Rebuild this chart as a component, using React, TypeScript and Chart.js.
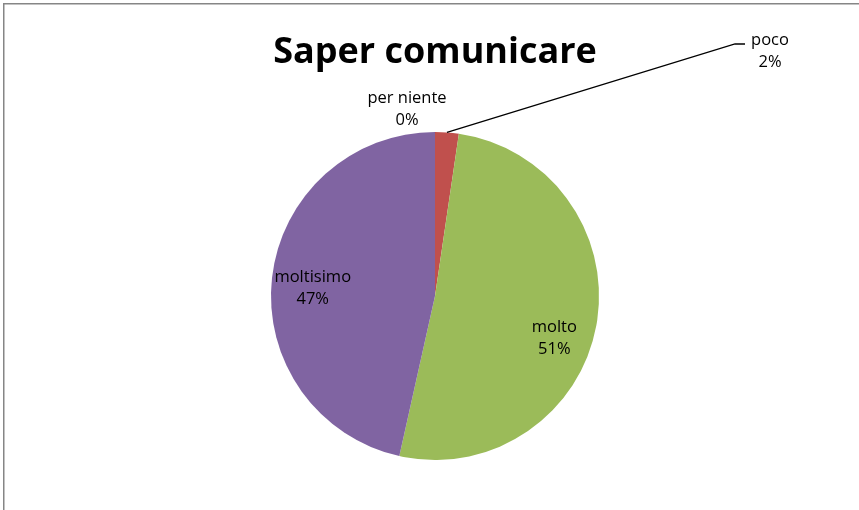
import React, { useEffect, useRef } from "react";
import { Chart, registerables } from "chart.js";

Chart.register(...registerables);

const categories = ["per niente", "poco", "molto", "moltisimo"];
const counts = [0, 1, 22, 20];
const colors = ["#4F81BD", "#C0504D", "#9BBB59", "#8064A2"];
const titleText = "Saper comunicare";

const FONT = "'Open Sans', 'DejaVu Sans', sans-serif";

const labelPlugin = {
  id: "excelLabels",
  beforeDraw(chart: any) {
    const ctx = chart.ctx;
    ctx.save();
    ctx.fillStyle = "#ffffff";
    ctx.fillRect(0, 0, chart.width, chart.height);
    ctx.strokeStyle = "#868686";
    ctx.lineWidth = 1.5;
    ctx.strokeRect(3.75, 3.75, chart.width + 20, chart.height + 20);
    ctx.restore();
  },
  afterDatasetsDraw(chart: any) {
    const ctx = chart.ctx;
    const meta = chart.getDatasetMeta(0);
    const data = chart.data.datasets[0].data as number[];
    const total = data.reduce((a, b) => a + b, 0);
    ctx.save();
    ctx.font = `16.5px ${FONT}`;
    ctx.fillStyle = "#000000";
    ctx.textAlign = "center";
    ctx.textBaseline = "middle";
    const lh = 22;
    meta.data.forEach((arc: any, i: number) => {
      const p = arc.getProps(["x", "y", "startAngle", "endAngle", "outerRadius"], true);
      const mid = (p.startAngle + p.endAngle) / 2;
      const pct = Math.round((data[i] / total) * 100) + "%";
      const name = chart.data.labels[i];
      let cx: number, cy: number;
      if (i === 0) {
        cx = p.x + Math.cos(mid) * (p.outerRadius + 23) - 28;
        cy = p.y + Math.sin(mid) * (p.outerRadius + 23);
      } else if (i === 1) {
        const sx = p.x + Math.cos(mid) * p.outerRadius;
        const sy = p.y + Math.sin(mid) * p.outerRadius;
        cx = p.x + 335;
        cy = p.y - 245;
        const ex = cx - 35;
        const ey = cy - 7;
        ctx.beginPath();
        ctx.strokeStyle = "#000000";
        ctx.lineWidth = 1.3;
        ctx.moveTo(sx, sy);
        ctx.lineTo(ex, ey);
        ctx.lineTo(ex + 10, ey);
        ctx.stroke();
      } else if (i === 2) {
        cx = p.x + Math.cos(mid) * p.outerRadius * 0.74;
        cy = p.y + Math.sin(mid) * p.outerRadius * 0.74 + 20;
      } else {
        cx = p.x + Math.cos(mid) * p.outerRadius * 0.75;
        cy = p.y + Math.sin(mid) * p.outerRadius * 0.75 + 6;
      }
      ctx.fillText(name, cx, cy - lh / 2);
      ctx.fillText(pct, cx, cy + lh / 2);
    });
    ctx.restore();
  },
};

export default function App() {
  const ref = useRef<HTMLCanvasElement | null>(null);
  useEffect(() => {
    document.body.style.margin = "0";
    if (!ref.current) return;
    const chart = new Chart(ref.current, {
      type: "pie",
      data: {
        labels: categories,
        datasets: [
          {
            data: counts,
            backgroundColor: colors,
            borderWidth: 0,
          },
        ],
      },
      options: {
        animation: false,
        responsive: false,
        layout: { padding: { left: 11, right: 0, top: 0, bottom: 50 } },
        plugins: {
          legend: { display: false },
          tooltip: { enabled: false },
          title: {
            display: true,
            text: titleText,
            color: "#000000",
            font: { family: FONT, size: 36, weight: "bold", lineHeight: 1.2 },
            padding: { top: 31, bottom: 57.8 },
          },
        },
      },
      plugins: [labelPlugin],
    });
    return () => chart.destroy();
  }, []);
  return <canvas ref={ref} width={859} height={510} style={{ display: "block" }} />;
}
